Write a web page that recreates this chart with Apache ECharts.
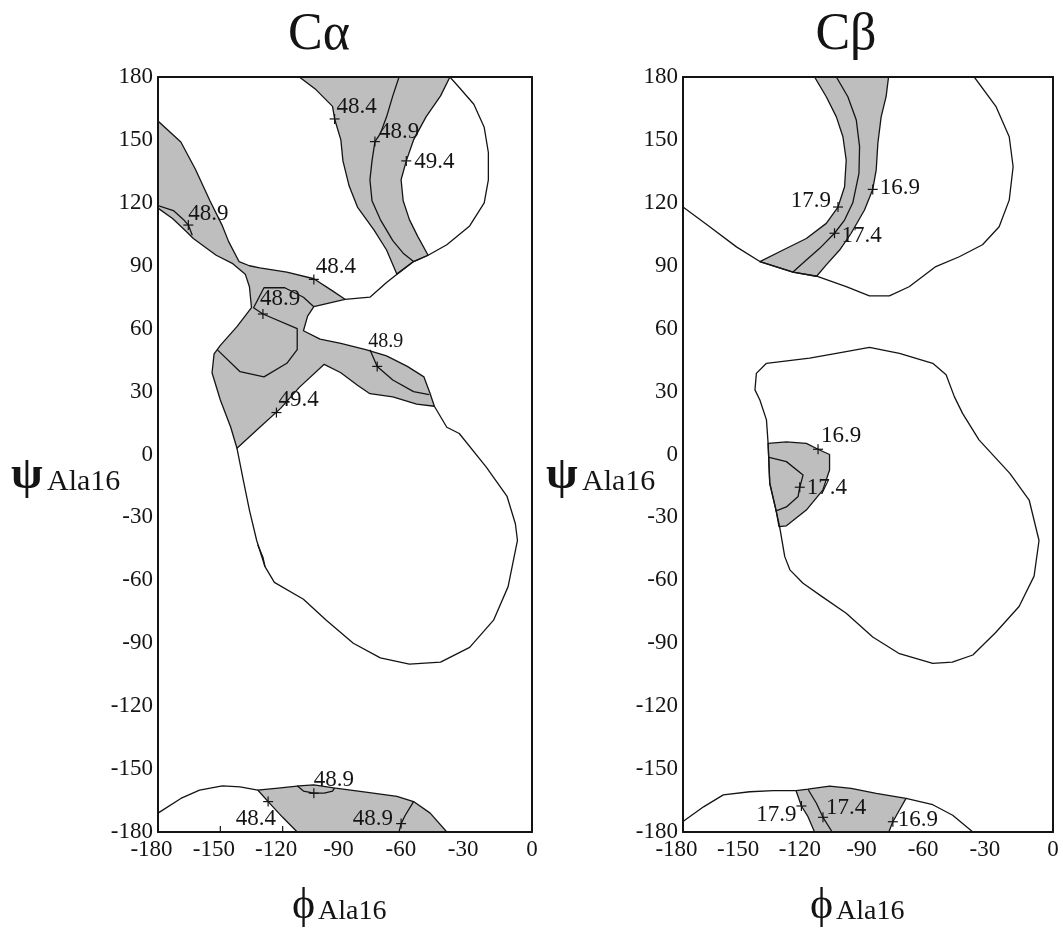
<!DOCTYPE html>
<html>
<head>
<meta charset="utf-8">
<script src="https://cdn.jsdelivr.net/npm/echarts/dist/echarts.min.js"></script>
<style>
  html, body { margin: 0; padding: 0; background: #fff; }
  #chart { width: 1063px; height: 928px; }
</style>
</head>
<body>
<div id="chart"></div>
<script>
// ---------- axes ----------
const phiRange = [-180, 0];
const psiRange = [-180, 180];
const tickStep = 30;
const panelTitles = ['Cα', 'Cβ'];
const residueName = 'Ala16';

// ---------- Cα contour map (levels 48.4 / 48.9 / 49.4) ----------
// shaded band across the top (48.4 -> 49.4)
const caBandTop = [[-112,180],[-104,174],[-96,166],[-95,160],[-92,150],[-91,140],[-88,128],[-84,118],[-76,107],[-70,97.5],[-65,86],[-57,92],[-50,95],[-55,104],[-59,112],[-62,121],[-63,131],[-60.5,140],[-57,150],[-51,161],[-44,171],[-39.5,180]];
// shaded cross-shaped region in the middle
const caBandMid = [[-180,159],[-169,149],[-162,136],[-155,121],[-149,109],[-146,101.5],[-141,92],[-136,90],[-131,89],[-118,87],[-105,83.8],[-96,78],[-90,74],[-105,70.5],[-108,66],[-110,59],[-102,55],[-92,53],[-80,50],[-70,47],[-60,42],[-52,37],[-49,29],[-47,23],[-55.5,24],[-67,27.5],[-78,29],[-84,33],[-92,39],[-100,43],[-112,32],[-121,22],[-131,13],[-142,3],[-145,13],[-150,26],[-154,39],[-153,48],[-150,52],[-142,61],[-135,70],[-136,80],[-138,86],[-144,91],[-152,95],[-163,103],[-166,106],[-173,112.5],[-180,117.5]];
// shaded region along the bottom edge
const caBandLow = [[-132,-160],[-121,-159],[-112,-158],[-105,-157.5],[-95.5,-159],[-80,-161],[-65,-163],[-57,-165.5],[-49,-171],[-41,-180],[-113,-180],[-120,-173],[-127,-165.5]];

const caLine489Top = [[-64,180],[-67,171],[-70,161],[-73,153],[-75.6,149.2],[-77,140],[-78,131],[-77,121],[-73,112],[-67,102],[-62,96],[-57,92]];
const caOutlineTop = [[-39.5,180],[-35,175],[-28,167],[-23,156],[-21,144],[-21,131],[-23,120],[-30,109],[-41,100],[-50,95],[-57,92],[-65,86],[-70,82],[-78,75],[-90,74]];
const caLine489Edge = [[-180,118.7],[-172.6,116.3],[-167.8,112.1],[-165.4,109.4],[-163.5,104.5]];
const caLine489Mid = [[-105,70.5],[-110,75],[-119,79.5],[-129,79.5],[-134,70],[-129.5,67],[-113,60],[-113,50],[-118,43.5],[-129,37],[-140.5,39.5],[-151.5,50]];
const caLine489Arm = [[-78,50],[-74.5,42],[-67,35.5],[-57,30],[-49.5,28.5]];
const caOutlineBlob = [[-142,3],[-139,-12],[-136,-26.5],[-132.5,-41],[-128.5,-53.5],[-124,-61],[-110,-69],[-99,-79],[-86,-90],[-73,-97],[-59,-100],[-44,-99],[-30,-92],[-18.5,-79],[-11.5,-63],[-7,-41],[-8,-33],[-12,-20],[-22,-6],[-35,10],[-41,13],[-47,23]];
const caOutlineFold = [[-132,-43],[-129.5,-49],[-128.5,-53.5]];
const caOutlineLow = [[-180,-171],[-169,-164],[-160,-160],[-149,-158],[-140.5,-158.5],[-132,-160]];
const caLine489Loop = [[-113,-158],[-110,-160.5],[-105,-161.5],[-100,-161.5],[-96,-160.5],[-95,-159]];
const caLine489Low = [[-57,-165.5],[-61,-172],[-63,-176],[-64,-180]];

const caMarkPoints = [[-95,160],[-75.6,149.2],[-60.5,140],[-165.4,109.4],[-105,83.5],[-129.5,67],[-74.5,42],[-123,20],[-105,-161.5],[-127,-165.5],[-63,-176]];
const caMarkValues = ['48.4','48.9','49.4','48.9','48.4','48.9','48.9','49.4','48.9','48.4','48.9'];
const caBottomTicks = [-150, -120];

// ---------- Cβ contour map (levels 16.9 / 17.4 / 17.9) ----------
const cbBandTop = [[-116,180],[-110.3,170.6],[-105.4,161],[-102.2,151.5],[-100.6,140.4],[-101.4,127.7],[-104.6,118],[-110.3,110.2],[-120,103],[-131.3,97.5],[-142.6,92],[-126.5,87],[-115,85],[-110.3,90.4],[-103.8,97.5],[-98.2,105.5],[-91.7,116.6],[-87.7,126.4],[-86,135.7],[-85.2,148.4],[-83.6,161],[-81.2,170.6],[-80,180]];
const cbBandMid = [[-138.6,5.3],[-129.7,6],[-120,5.3],[-114.3,2.5],[-108.7,0],[-108.7,-7.4],[-112,-17],[-120,-26.5],[-129.7,-34],[-133.3,-34.4],[-134.6,-27.2],[-137.8,-13.7]];
const cbBandLow = [[-125,-160.3],[-119.2,-159.6],[-108.7,-158.1],[-98.2,-159.2],[-86,-161.6],[-71.5,-164],[-74.7,-169.5],[-77.9,-175.1],[-79.9,-180],[-116,-180],[-119.2,-172.7],[-122.4,-167.6]];

const cbLine174Top = [[-105.4,180],[-99.8,170.6],[-95.7,159.5],[-94.1,146.8],[-94.4,134],[-97.4,120],[-101.4,111.8],[-106.3,105.5],[-113.5,98.3],[-120,92.7],[-126.5,87]];
const cbOutlineTop = [[-180,118],[-167,108.6],[-154,99],[-142.6,92],[-126.5,87],[-115,85],[-100.6,80],[-89.3,75.6],[-79.6,75.6],[-70,80],[-57,89.6],[-45.6,94.3],[-34.3,100],[-26.2,108.6],[-21.3,121.3],[-19.4,137.2],[-21.3,151.5],[-27.8,166],[-38.3,180]];
const cbOutlineBlob = [[-139.4,43.5],[-118.4,46],[-105.4,48.2],[-89.3,51.1],[-74.7,48.2],[-58.5,43.5],[-52,38],[-48,27.6],[-44,19.6],[-36,7],[-21,-9],[-11.6,-21.7],[-6.8,-41],[-9.2,-58],[-16.5,-72.5],[-28,-85],[-39,-95.6],[-49,-99],[-58.5,-99.6],[-74.7,-95],[-87.7,-87],[-100.6,-75.7],[-112,-68],[-121.6,-61.4],[-128,-55],[-130.5,-48.7],[-133,-34.4],[-134.6,-27.2],[-137.8,-13.7],[-138.6,5.3],[-139.4,16.5],[-142.6,26],[-145,30.8],[-144.3,38.7],[-139.4,43.5]];
const cbLine174Mid = [[-138.6,-1.3],[-129.7,-3.4],[-121.6,-9.8],[-123.2,-15.6],[-124,-20],[-129.7,-25],[-135,-27]];
const cbOutlineLowLeft = [[-180,-175],[-170,-168],[-160.4,-162.3],[-147.5,-160.8],[-136,-160.3],[-125,-160.3]];
const cbOutlineLowRight = [[-71.5,-164],[-58.5,-167],[-48.8,-172],[-39,-180]];
const cbLine174Low = [[-119.2,-159.6],[-115.1,-166.3],[-111.9,-173],[-107.4,-180]];

const cbMarkPoints = [[-104.6,118],[-87.7,126.4],[-106.3,105.5],[-114.3,2.5],[-123.2,-15.6],[-122.4,-167.6],[-111.9,-173],[-77.9,-175.1]];
const cbMarkValues = ['17.9','16.9','17.4','16.9','17.4','17.9','17.4','16.9'];

// ---------- drawing ----------
const SERIF = "'Liberation Serif','Times New Roman',serif";
const INK = '#141414';
const SHADE = '#bebebe';
const LINE_W = 1.3;

// text placement next to each "+" marker (pixel offsets, baseline relative to the marker)
const caLabelPlace = [
  { align: 'left', dx: 2, dy: -4 }, { align: 'left', dx: 4, dy: -2 }, { align: 'left', dx: 8, dy: 9 },
  { align: 'left', dx: 0, dy: -3 }, { align: 'left', dx: 2, dy: -5 }, { align: 'left', dx: -3, dy: -7 },
  { align: 'left', dx: -9, dy: -18, size: 20 }, { align: 'left', dx: 2, dy: -5 }, { align: 'left', dx: 0, dy: -5 },
  { align: 'right', dx: 8, dy: 25 }, { align: 'right', dx: -8, dy: 3 }
];
const cbLabelPlace = [
  { align: 'right', dx: -7, dy: 2 }, { align: 'left', dx: 7, dy: 6 }, { align: 'left', dx: 7, dy: 10 },
  { align: 'left', dx: 3, dy: -6 }, { align: 'left', dx: 7, dy: 8 }, { align: 'right', dx: -5, dy: 17 },
  { align: 'left', dx: 3, dy: -2 }, { align: 'left', dx: 5, dy: 6 }
];

function shapeSeries(ax, shapes, filled) {
  return {
    type: 'custom', xAxisIndex: ax, yAxisIndex: ax, clip: true, silent: true,
    z: filled ? 2 : 3,
    data: shapes.map((s, i) => [s[0][0], s[0][1], i]),
    renderItem: (params, api) => ({
      type: filled ? 'polygon' : 'polyline',
      shape: { points: shapes[params.dataIndex].map(p => api.coord(p)) },
      style: { fill: filled ? SHADE : 'none', stroke: INK, lineWidth: LINE_W, lineJoin: 'round' }
    })
  };
}

function markSeries(ax, points, values, places) {
  return {
    type: 'custom', xAxisIndex: ax, yAxisIndex: ax, clip: false, silent: true, z: 4,
    data: points.map((p, i) => [p[0], p[1], i]),
    renderItem: (params, api) => {
      const i = params.dataIndex;
      const c = api.coord(points[i]);
      const pl = places[i];
      const fs = pl.size || 23;
      return {
        type: 'group',
        children: [
          { type: 'line', shape: { x1: c[0] - 5, y1: c[1], x2: c[0] + 5, y2: c[1] }, style: { stroke: INK, lineWidth: 1.2 } },
          { type: 'line', shape: { x1: c[0], y1: c[1] - 5, x2: c[0], y2: c[1] + 5 }, style: { stroke: INK, lineWidth: 1.2 } },
          { type: 'text', x: c[0] + pl.dx, y: c[1] + pl.dy - 0.3375 * fs,
            style: { text: values[i], fill: INK, fontSize: fs, fontFamily: SERIF, align: pl.align, verticalAlign: 'middle' } }
        ]
      };
    }
  };
}

function tickSeries(ax, values) {
  return {
    type: 'custom', xAxisIndex: ax, yAxisIndex: ax, clip: false, silent: true, z: 4,
    data: values.map(v => [v, psiRange[0]]),
    renderItem: (params, api) => {
      const c = api.coord([values[params.dataIndex], psiRange[0]]);
      return { type: 'line', shape: { x1: c[0], y1: c[1], x2: c[0], y2: c[1] - 6 }, style: { stroke: INK, lineWidth: 1.2 } };
    }
  };
}

const grids = [
  { left: 158, top: 77, width: 374, height: 755 },
  { left: 683, top: 77, width: 370, height: 755 }
];

const frameLine = { show: true, onZero: false, lineStyle: { color: INK, width: 2 } };
const xAxes = [], yAxes = [];
grids.forEach((g, gi) => {
  xAxes.push({
    type: 'value', gridIndex: gi, position: 'bottom', min: phiRange[0], max: phiRange[1], interval: tickStep, z: 10,
    axisLine: frameLine, axisTick: { show: false }, splitLine: { show: false },
    axisLabel: {
      color: INK, fontFamily: SERIF, fontSize: 23, margin: 6,
      formatter: v => (v < 0 ? v + '{s| }' : String(v)),
      rich: { s: { width: 13 } }
    }
  });
  xAxes.push({
    type: 'value', gridIndex: gi, position: 'top', min: phiRange[0], max: phiRange[1], interval: tickStep, z: 10,
    axisLine: frameLine, axisTick: { show: false }, axisLabel: { show: false }, splitLine: { show: false }
  });
  yAxes.push({
    type: 'value', gridIndex: gi, position: 'left', min: psiRange[0], max: psiRange[1], interval: tickStep, z: 10,
    axisLine: frameLine, axisTick: { show: false }, splitLine: { show: false },
    axisLabel: { color: INK, fontFamily: SERIF, fontSize: 23, margin: 5 }
  });
  yAxes.push({
    type: 'value', gridIndex: gi, position: 'right', min: psiRange[0], max: psiRange[1], interval: tickStep, z: 10,
    axisLine: frameLine, axisTick: { show: false }, axisLabel: { show: false }, splitLine: { show: false }
  });
});

// panel 0 draws on x/y axis 0, panel 1 on x/y axis 2
const series = [
  shapeSeries(0, [caBandTop, caBandMid, caBandLow], true),
  shapeSeries(0, [caLine489Top, caOutlineTop, caLine489Edge, caLine489Mid, caLine489Arm, caOutlineBlob, caOutlineFold, caOutlineLow, caLine489Loop, caLine489Low], false),
  markSeries(0, caMarkPoints, caMarkValues, caLabelPlace),
  tickSeries(0, caBottomTicks),
  shapeSeries(2, [cbBandTop, cbBandMid, cbBandLow], true),
  shapeSeries(2, [cbLine174Top, cbOutlineTop, cbOutlineBlob, cbLine174Mid, cbOutlineLowLeft, cbOutlineLowRight, cbLine174Low], false),
  markSeries(2, cbMarkPoints, cbMarkValues, cbLabelPlace)
];

function label(x, y, text, size, align, weight) {
  return { type: 'text', x: x, y: y - 0.3375 * size, silent: true,
    style: { text: text, fill: INK, fontSize: size, fontFamily: SERIF, fontWeight: weight || 'normal',
             align: align || 'left', verticalAlign: 'middle' } };
}

const graphics = [
  label(319, 53, panelTitles[0], 52, 'center'),
  label(846, 53, panelTitles[1], 52, 'center'),
  // ψ axis names (y = baseline)
  label(11, 492, 'ψ', 46, 'left', 'bold'), label(47, 492, residueName, 30),
  label(546, 492, 'ψ', 46, 'left', 'bold'), label(582, 492, residueName, 30),
  // φ axis names
  label(292, 921, 'ϕ', 44), label(318, 921, residueName, 28),
  label(810, 921, 'ϕ', 44), label(836, 921, residueName, 28)
];

const chart = echarts.init(document.getElementById('chart'), null, { renderer: 'canvas' });
chart.setOption({
  backgroundColor: '#fff',
  animation: false,
  grid: grids,
  xAxis: xAxes,
  yAxis: yAxes,
  series: series,
  graphic: graphics
});
</script>
</body>
</html>
